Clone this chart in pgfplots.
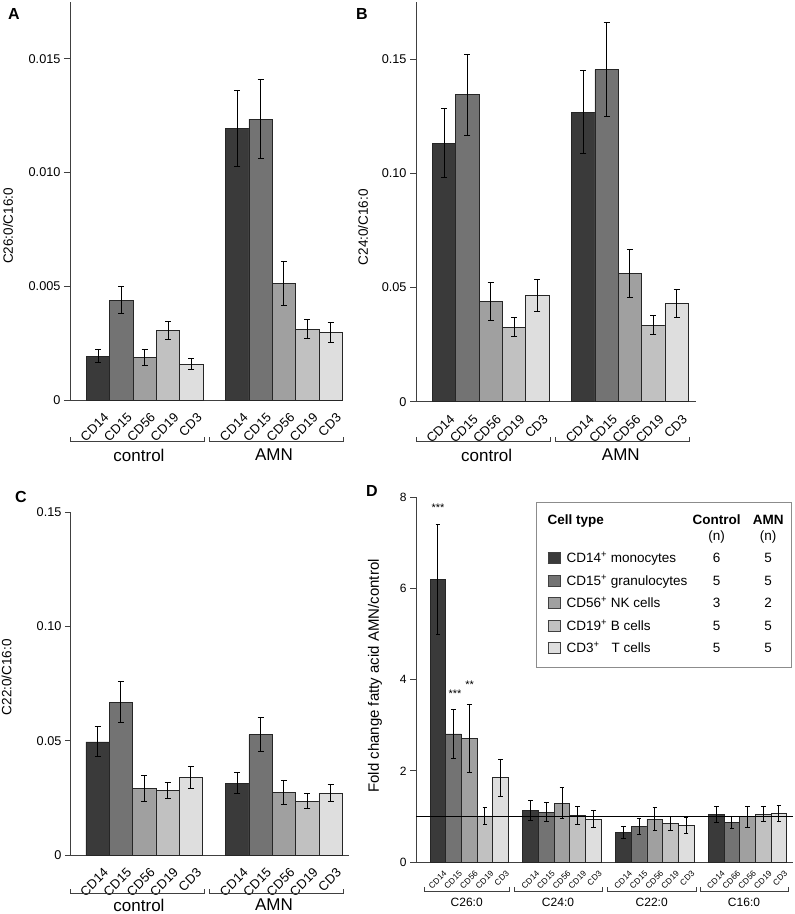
\documentclass[border=0pt]{standalone}
\usepackage{fontspec}
\setmainfont{Liberation Sans}
\usepackage{array}
\usepackage{pgfplots}
\pgfplotsset{compat=1.18}

\definecolor{c14}{HTML}{3A3A3A}
\definecolor{c15}{HTML}{737373}
\definecolor{c56}{HTML}{A0A0A0}
\definecolor{c19}{HTML}{C1C1C1}
\definecolor{c3}{HTML}{DEDEDE}
\definecolor{axgray}{HTML}{404040}

\pgfplotsset{
  panel/.style={
    scale only axis, clip=false,
    axis x line*=bottom, axis y line*=left,
    axis line style={-, axgray, line width=1pt},
    xmin=0, ymin=0,
    tick align=outside, major tick length=6pt,
    ytick style={axgray, line width=1pt},
    xtick style={draw=none},
    scaled y ticks=false,
    yticklabel style={font=\fontsize{12.7}{15}\selectfont},
    ylabel style={font=\fontsize{13.5}{16}\selectfont, anchor=center},
  },
  abclab/.style={
    xticklabel style={xshift=5pt, yshift=-6pt, rotate=45, anchor=north east,
      font=\fontsize{13}{15}\selectfont, inner sep=0pt}},
  cell/.style={ybar, bar shift=0pt, bar width=1, fill=#1, draw=black!85, line width=0.8pt,
    error bars/.cd, y dir=both, y explicit,
    error bar style={black, line width=1pt},
    error mark options={rotate=90, black, line width=1pt, mark size=3pt}},
  dcell/.style={ybar, bar shift=0pt, bar width=1, fill=#1, draw=black!85, line width=0.8pt,
    error bars/.cd, y dir=both, y explicit,
    error bar style={black, line width=0.9pt},
    error mark options={rotate=90, black, line width=0.9pt, mark size=2.3pt}},
}

\newcommand\nc[1]{\makebox[30pt]{#1}}
\newcommand\sw[1]{\raisebox{-0.5pt}{\setlength\fboxsep{0pt}\setlength\fboxrule{0.65pt}\fcolorbox{black!75}{#1}{\rule{0pt}{10.5pt}\rule{12pt}{0pt}}}}

\begin{document}
\begin{tikzpicture}
\path[use as bounding box] (0,0) rectangle (795pt,-914pt);

% ---------- A ----------
\begin{axis}[panel, abclab, at={(70pt,-400pt)}, anchor=south west, width=273pt, height=398pt,
  xmax=11.7, ymax=0.0175,
  ytick={0,0.005,0.01,0.015}, yticklabels={0,0.005,0.010,0.015},
  xtick={1.2,2.2,3.2,4.2,5.2,7.17,8.17,9.17,10.17,11.17},
  xticklabels={CD14,CD15,CD56,CD19,CD3,CD14,CD15,CD56,CD19,CD3},
  ylabel={C26:0/C16:0}, ylabel style={at={(axis description cs:-0.227,0.437)}}]
\addplot[cell=c14] coordinates {(1.2,0.00193) +- (0,0.00027) (7.17,0.01193) +- (0,0.00168)};
\addplot[cell=c15] coordinates {(2.2,0.00439) +- (0,0.0006) (8.17,0.01235) +- (0,0.00173)};
\addplot[cell=c56] coordinates {(3.2,0.00187) +- (0,0.00037) (9.17,0.00512) +- (0,0.00098)};
\addplot[cell=c19] coordinates {(4.2,0.00307) +- (0,0.0004) (10.17,0.00312) +- (0,0.0004)};
\addplot[cell=c3] coordinates {(5.2,0.00158) +- (0,0.00024) (11.17,0.00297) +- (0,0.00043)};
\end{axis}

% ---------- B ----------
\begin{axis}[panel, abclab, at={(416pt,-401.7pt)}, anchor=south west, width=280pt, height=399.5pt,
  xmax=12, ymax=0.175,
  ytick={0,0.05,0.1,0.15}, yticklabels={0,0.05,0.10,0.15},
  xtick={1.2,2.2,3.2,4.2,5.2,7.17,8.17,9.17,10.17,11.17},
  xticklabels={CD14,CD15,CD56,CD19,CD3,CD14,CD15,CD56,CD19,CD3},
  ylabel={C24:0/C16:0}, ylabel style={at={(axis description cs:-0.189,0.437)}}]
\addplot[cell=c14] coordinates {(1.2,0.1132) +- (0,0.0152) (7.17,0.1269) +- (0,0.018)};
\addplot[cell=c15] coordinates {(2.2,0.1345) +- (0,0.0178) (8.17,0.1455) +- (0,0.0206)};
\addplot[cell=c56] coordinates {(3.2,0.0440) +- (0,0.0083) (9.17,0.0561) +- (0,0.0106)};
\addplot[cell=c19] coordinates {(4.2,0.0327) +- (0,0.0042) (10.17,0.0336) +- (0,0.0043)};
\addplot[cell=c3] coordinates {(5.2,0.0466) +- (0,0.0069) (11.17,0.0429) +- (0,0.0061)};
\end{axis}

% ---------- C ----------
\begin{axis}[panel, abclab, at={(71pt,-855pt)}, anchor=south west, width=277.6pt, height=342.7pt,
  xmax=11.9, ymax=0.15,
  ytick={0,0.05,0.1,0.15}, yticklabels={0,0.05,0.10,0.15},
  xtick={1.14,2.14,3.14,4.14,5.14,7.13,8.13,9.13,10.13,11.13},
  xticklabels={CD14,CD15,CD56,CD19,CD3,CD14,CD15,CD56,CD19,CD3},
  ylabel={C22:0/C16:0}, ylabel style={at={(axis description cs:-0.232,0.519)}}]
\addplot[cell=c14] coordinates {(1.14,0.0495) +- (0,0.0066) (7.13,0.0315) +- (0,0.0044)};
\addplot[cell=c15] coordinates {(2.14,0.0668) +- (0,0.0090) (8.13,0.0527) +- (0,0.0074)};
\addplot[cell=c56] coordinates {(3.14,0.0290) +- (0,0.0056) (9.13,0.0273) +- (0,0.0051)};
\addplot[cell=c19] coordinates {(4.14,0.0283) +- (0,0.0036) (10.13,0.0236) +- (0,0.0032)};
\addplot[cell=c3] coordinates {(5.14,0.0339) +- (0,0.005) (11.13,0.0271) +- (0,0.0038)};
\end{axis}

% ---------- D ----------
\begin{axis}[panel, at={(416pt,-862pt)}, anchor=south west, width=377pt, height=364.7pt,
  xmax=24.06, ymax=8,
  ytick={0,2,4,6,8}, yticklabels={0,2,4,6,8},
  yticklabel style={font=\fontsize{12}{14}\selectfont},
  xtick={1.4,2.4,3.4,4.4,5.4,7.32,8.32,9.32,10.32,11.32,13.24,14.24,15.24,16.24,17.24,19.16,20.16,21.16,22.16,23.16},
  xticklabels={CD14,CD15,CD56,CD19,CD3,CD14,CD15,CD56,CD19,CD3,CD14,CD15,CD56,CD19,CD3,CD14,CD66,CD56,CD19,CD3},
  xticklabel style={xshift=5pt, yshift=-2pt, rotate=45, anchor=north east,
    font=\fontsize{8.3}{10}\selectfont, inner sep=0pt},
  ylabel={Fold change fatty acid AMN/control},
  ylabel style={font=\fontsize{15}{17}\selectfont, at={(axis description cs:-0.109,0.51)}}]
\addplot[dcell=c14] coordinates {(1.4,6.20) +- (0,1.2) (7.32,1.13) +- (0,0.21) (13.24,0.64) +- (0,0.13) (19.16,1.04) +- (0,0.17)};
\addplot[dcell=c15] coordinates {(2.4,2.81) +- (0,0.54) (8.32,1.09) +- (0,0.21) (14.24,0.78) +- (0,0.17) (20.16,0.87) +- (0,0.14)};
\addplot[dcell=c56] coordinates {(3.4,2.71) +- (0,0.74) (9.32,1.29) +- (0,0.34) (15.24,0.94) +- (0,0.25) (21.16,0.99) +- (0,0.23)};
\addplot[dcell=c19] coordinates {(4.4,1.01) +- (0,0.18) (10.32,1.02) +- (0,0.19) (16.24,0.84) +- (0,0.15) (22.16,1.05) +- (0,0.17)};
\addplot[dcell=c3] coordinates {(5.4,1.85) +- (0,0.41) (11.32,0.94) +- (0,0.19) (17.24,0.80) +- (0,0.17) (23.16,1.07) +- (0,0.18)};
\addplot[black, line width=1pt] coordinates {(0,1) (24.06,1)};
\node[font=\fontsize{11}{12}\selectfont, yshift=-2pt] at (axis cs:1.4,7.82) {***};
\node[font=\fontsize{11}{12}\selectfont, yshift=-2pt] at (axis cs:2.49,3.74) {***};
\node[font=\fontsize{11}{12}\selectfont, yshift=-2pt] at (axis cs:3.43,3.93) {**};
\node[draw=black!45, line width=0.9pt, fill=white, inner xsep=0pt, inner ysep=10pt, anchor=north west,
  font=\fontsize{13.5}{16.2}\selectfont] at (rel axis cs:0.3175,0.986) {%
  \begin{tabular}{@{\hspace{11.5pt}}l@{\hspace{5.6pt}}p{135pt}@{}c@{\hspace{21.6pt}}c@{\hspace{8.5pt}}}
  \multicolumn{2}{@{\hspace{11.5pt}}l@{}}{\textbf{Cell type}} & \nc{\textbf{Control}} & \nc{\textbf{AMN}}\\
   & & \nc{(n)} & \nc{(n)}\\[6.3pt]
  \sw{c14} & CD14\textsuperscript{+} monocytes & \nc{6} & \nc{5}\\[6.3pt]
  \sw{c15} & CD15\textsuperscript{+} granulocytes & \nc{5} & \nc{5}\\[6.3pt]
  \sw{c56} & CD56\textsuperscript{+} NK cells & \nc{3} & \nc{2}\\[6.3pt]
  \sw{c19} & CD19\textsuperscript{+} B cells & \nc{5} & \nc{5}\\[6.3pt]
  \sw{c3} & CD3\textsuperscript{+}\hspace{0.9em}T cells & \nc{5} & \nc{5}\\
  \end{tabular}};
\end{axis}

% ---------- group brackets and labels ----------
\begin{scope}[axgray, line width=0.9pt]
\draw (70pt,-437pt) -- (70pt,-441pt) -- (204pt,-441pt) -- (204pt,-437pt);
\draw (209pt,-437pt) -- (209pt,-441pt) -- (343pt,-441pt) -- (343pt,-437pt);
\draw (416pt,-437pt) -- (416pt,-441pt) -- (550pt,-441pt) -- (550pt,-437pt);
\draw (555.7pt,-437pt) -- (555.7pt,-441pt) -- (689pt,-441pt) -- (689pt,-437pt);
\draw (70pt,-889pt) -- (70pt,-893pt) -- (204pt,-893pt) -- (204pt,-889pt);
\draw (209pt,-889pt) -- (209pt,-893pt) -- (343pt,-893pt) -- (343pt,-889pt);
\draw (424pt,-887pt) -- (424pt,-891pt) -- (509.3pt,-891pt) -- (509.3pt,-887pt);
\draw (514pt,-887pt) -- (514pt,-891pt) -- (602.7pt,-891pt) -- (602.7pt,-887pt);
\draw (607.3pt,-887pt) -- (607.3pt,-891pt) -- (696pt,-891pt) -- (696pt,-887pt);
\draw (700pt,-887pt) -- (700pt,-891pt) -- (788.3pt,-891pt) -- (788.3pt,-887pt);
\end{scope}
\begin{scope}[every node/.style={font=\fontsize{17}{20}\selectfont}]
\node at (139pt,-455pt) {control};
\node at (274pt,-455pt) {AMN};
\node at (486.7pt,-455pt) {control};
\node at (620.8pt,-455pt) {AMN};
\node at (139pt,-905pt) {control};
\node at (274pt,-905pt) {AMN};
\end{scope}
\begin{scope}[every node/.style={font=\fontsize{12}{14}\selectfont}]
\node at (466.7pt,-902pt) {C26:0};
\node at (558pt,-902pt) {C24:0};
\node at (651.7pt,-902pt) {C22:0};
\node at (744pt,-902pt) {C16:0};
\end{scope}

% ---------- panel letters ----------
\begin{scope}[every node/.style={font=\bfseries\fontsize{16}{18}\selectfont}]
\node at (14pt,-14pt) {A};
\node at (362pt,-14pt) {B};
\node at (21pt,-497pt) {C};
\node at (372pt,-491pt) {D};
\end{scope}
\end{tikzpicture}
\end{document}
